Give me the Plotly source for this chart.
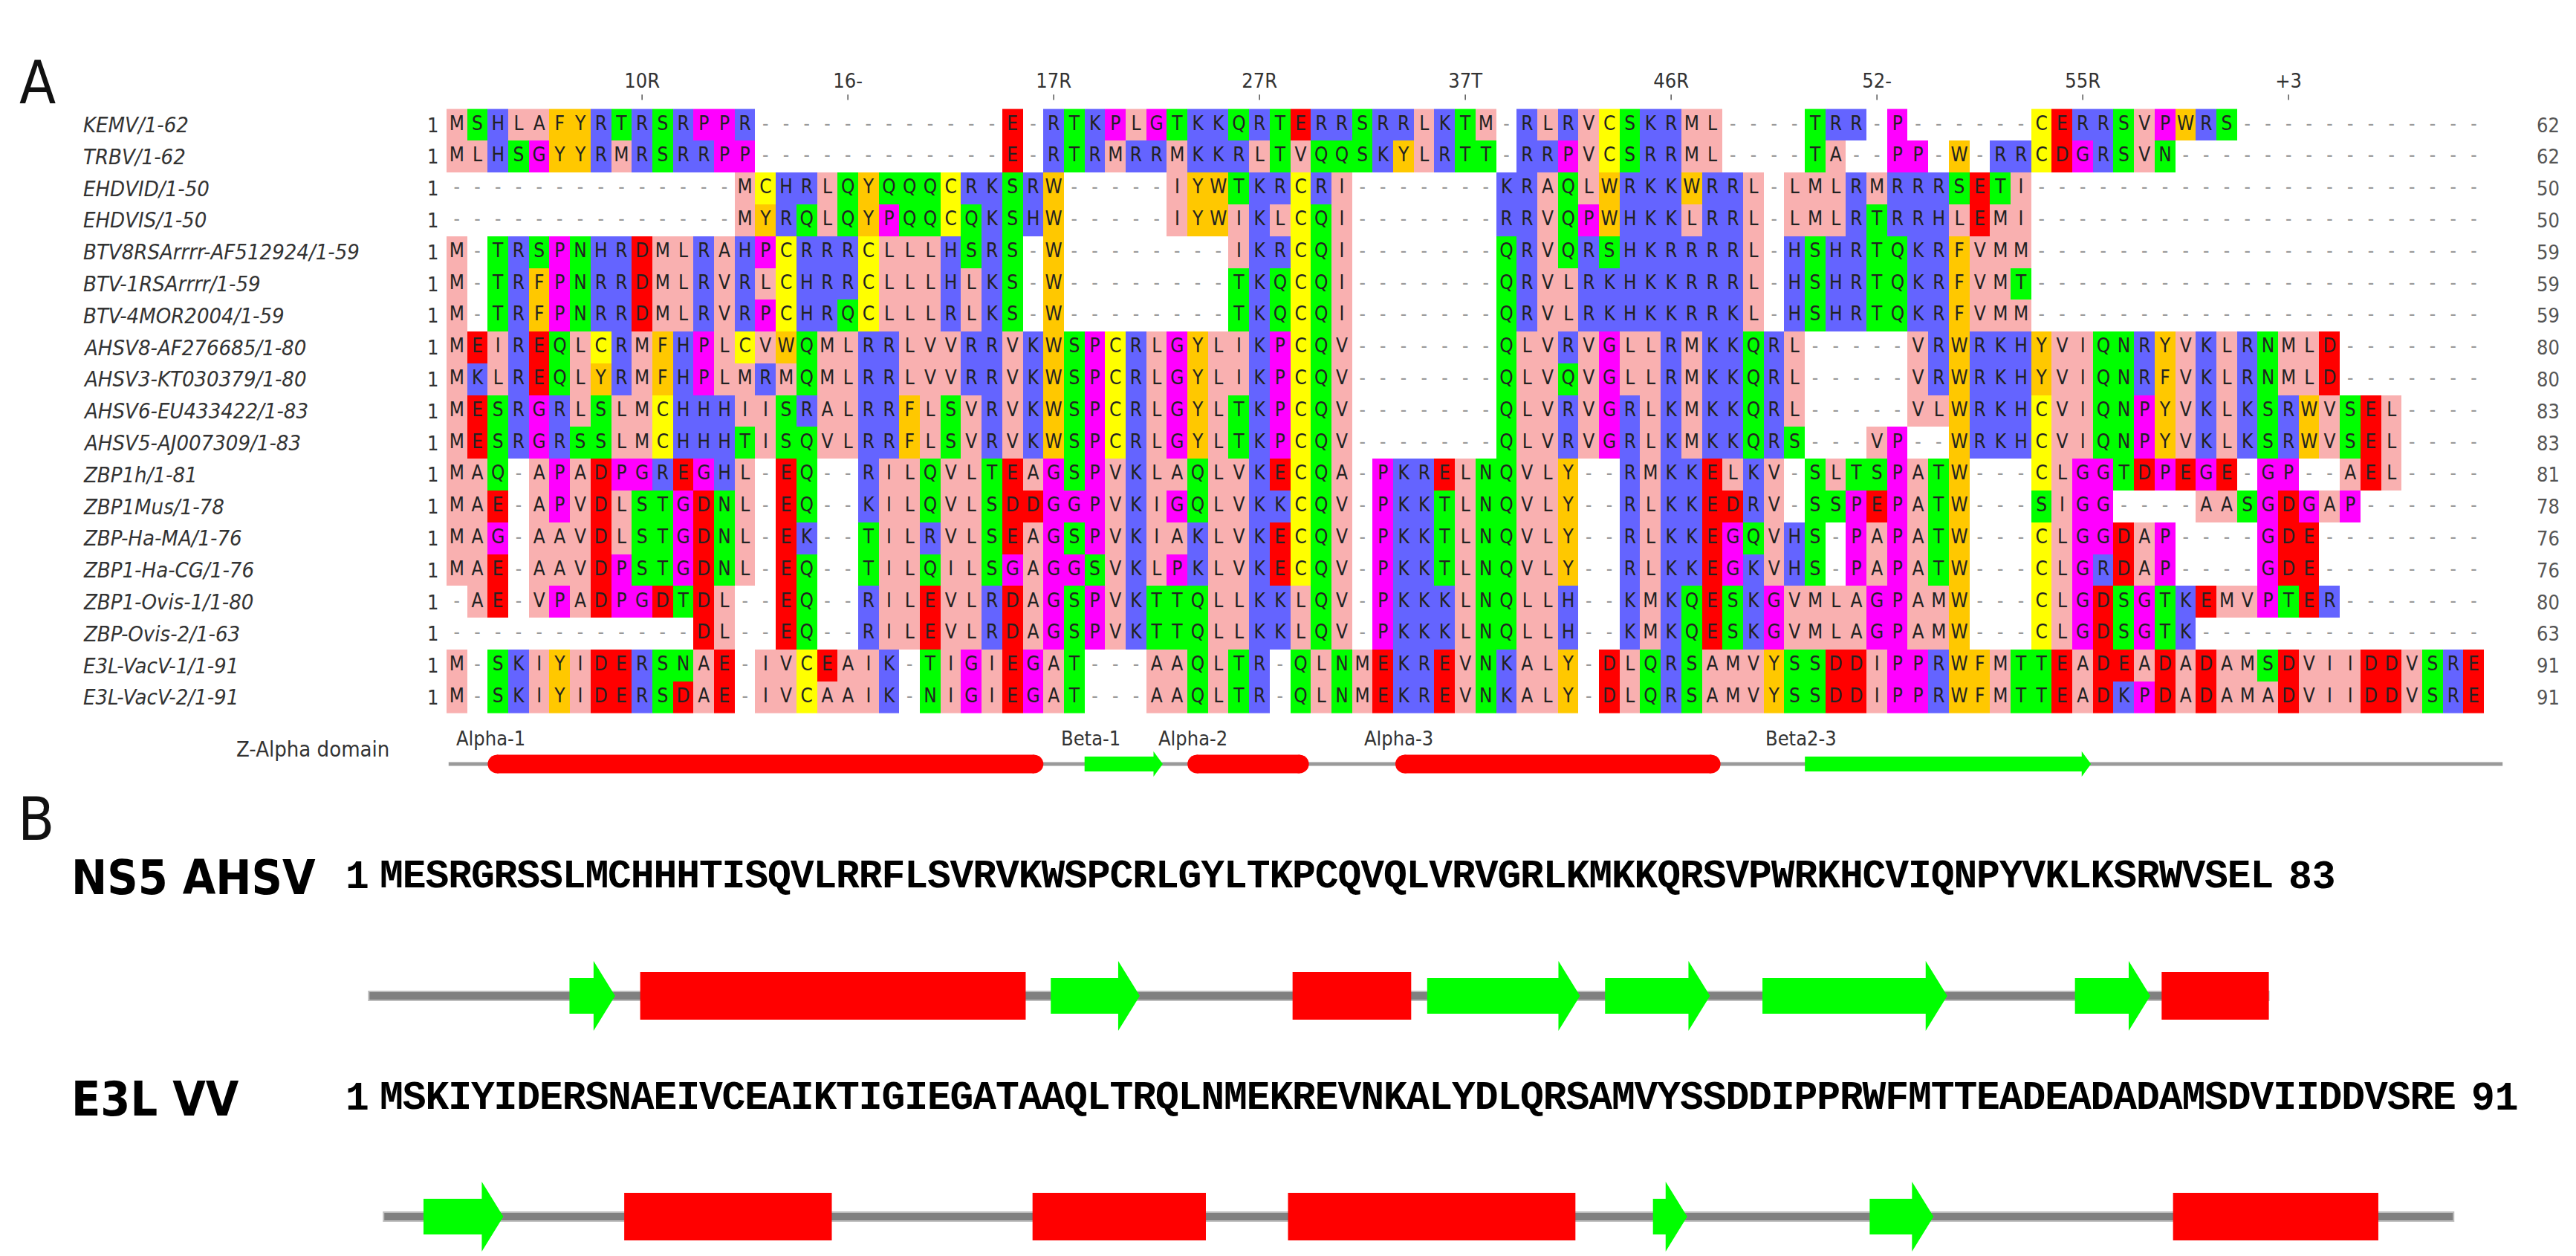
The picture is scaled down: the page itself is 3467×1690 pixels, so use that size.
import plotly.graph_objects as go

W, H = 3467, 1690

# ---------------- Panel A data ----------------
names = ["KEMV/1-62", "TRBV/1-62", "EHDVID/1-50", "EHDVIS/1-50", "BTV8RSArrrr-AF512924/1-59",
         "BTV-1RSArrrr/1-59", "BTV-4MOR2004/1-59", "AHSV8-AF276685/1-80", "AHSV3-KT030379/1-80",
         "AHSV6-EU433422/1-83", "AHSV5-AJ007309/1-83", "ZBP1h/1-81", "ZBP1Mus/1-78",
         "ZBP-Ha-MA/1-76", "ZBP1-Ha-CG/1-76", "ZBP1-Ovis-1/1-80", "ZBP-Ovis-2/1-63",
         "E3L-VacV-1/1-91", "E3L-VacV-2/1-91"]

aligned = [
    "MSHLAFYRTRSRPPR------------E-RTKPLGTKKQRTERRSRRLKTM-RLRVCSKRML----TRR-P------CERRSVPWRS",
    "MLHSGYYRMRSRRPP------------E-RTRMRRMKKRLTVQQSKYLRTT-RRPVCSRRML----TA--PP-W-RRCDGRSVN",
    "--------------MCHRLQYQQQCRKSRW-----IYWTKRCRI-------KRAQLWRKKWRRL-LMLRMRRRSETI",
    "--------------MYRQLQYPQQCQKSHW-----IYWIKLCQI-------RRVQPWHKKLRRL-LMLRTRRHLEMI",
    "M-TRSPNHRDMLRAHPCRRRCLLLHSRS-W--------IKRCQI-------QRVQRSHKRRRRL-HSHRTQKRFVMM",
    "M-TRFPNRRDMLRVRLCHRRCLLLHLKS-W--------TKQCQI-------QRVLRKHKKRRRL-HSHRTQKRFVMT",
    "M-TRFPNRRDMLRVRPCHRQCLLLRLKS-W--------TKQCQI-------QRVLRKHKKRRKL-HSHRTQKRFVMM",
    "MEIREQLCRMFHPLCVWQMLRRLVVRRVKWSPCRLGYLIKPCQV-------QLVRVGLLRMKKQRL-----VRWRKHYVIQNRYVKLRNMLD",
    "MKLREQLYRMFHPLMRMQMLRRLVVRRVKWSPCRLGYLIKPCQV-------QLVQVGLLRMKKQRL-----VRWRKHYVIQNRFVKLRNMLD",
    "MESRGRLSLMCHHHIISRALRRFLSVRVKWSPCRLGYLTKPCQV-------QLVRVGRLKMKKQRL-----VLWRKHCVIQNPYVKLKSRWVSEL",
    "MESRGRSSLMCHHHTISQVLRRFLSVRVKWSPCRLGYLTKPCQV-------QLVRVGRLKMKKQRS---VP--WRKHCVIQNPYVKLKSRWVSEL",
    "MAQ-APADPGREGHL-EQ--RILQVLTEAGSPVKLAQLVKECQA-PKRELNQVLY--RMKKELKV-SLTSPATW---CLGGTDPEGE-GP--AEL",
    "MAE-APVDLSTGDNL-EQ--KILQVLSDDGGPVKIGQLVKKCQV-PKKTLNQVLY--RLKKEDRV-SSPEPATW---SIGG----AASGDGAP",
    "MAG-AAVDLSTGDNL-EK--TILRVLSEAGSPVKIAKLVKECQV-PKKTLNQVLY--RLKKEGQVHS-PAPATW---CLGGDAP----GDE",
    "MAE-AAVDPSTGDNL-EQ--TILQILSGAGGSVKLPKLVKECQV-PKKTLNQVLY--RLKKEGKVHS-PAPATW---CLGRDAP----GDE",
    "-AE-VPADPGDTDL--EQ--RILEVLRDAGSPVKTTQLLKKLQV-PKKKLNQLLH--KMKQESKGVMLAGPAMW---CLGDSGTKEMVPTER",
    "------------DL--EQ--RILEVLRDAGSPVKTTQLLKKLQV-PKKKLNQLLH--KMKQESKGVMLAGPAMW---CLGDSGTK",
    "M-SKIYIDERSNAE-IVCEAIK-TIGIEGAT---AAQLTR-QLNMEKREVNKALY-DLQRSAMVYSSDDIPPRWFMTTEADEADADAMSDVIIDDVSRE",
    "M-SKIYIDERSDAE-IVCAAIK-NIGIEGAT---AAQLTR-QLNMEKREVNKALY-DLQRSAMVYSSDDIPPRWFMTTEADKPDADAMADVIIDDVSRE",
]
n_cols = 99

tick_cols = [10, 20, 30, 40, 50, 60, 70, 80, 90]
tick_labels = ["10R", "16-", "17R", "27R", "37T", "46R", "52-", "55R", "+3"]

# Z-alpha domain features (start col, end col, kind, label, label col)
featA = [(2.5, 29.5, "helix", "Alpha-1", 0.9),
         (31.5, 35.3, "strand", "Beta-1", 30.3),
         (36.5, 42.4, "helix", "Alpha-2", 35.0),
         (46.6, 62.4, "helix", "Alpha-3", 45.0),
         (66.5, 80.4, "strand", "Beta2-3", 64.5)]
trackA = (0.6, 100.4)

# ---------------- Panel B data ----------------
seqB_names = ["NS5 AHSV", "E3L VV"]
seqB = ["MESRGRSSLMCHHHTISQVLRRFLSVRVKWSPCRLGYLTKPCQVQLVRVGRLKMKKQRSVPWRKHCVIQNPYVKLKSRWVSEL",
        "MSKIYIDERSNAEIVCEAIKTIGIEGATAAQLTRQLNMEKREVNKALYDLQRSAMVYSSDDIPPRWFMTTEADEADADAMSDVIIDDVSRE"]
featB = [
    [(8.8, 10.8, "strand"), (11.9, 28.8, "helix"), (29.9, 33.8, "strand"), (40.5, 45.7, "helix"),
     (46.4, 53.1, "strand"), (54.2, 58.8, "strand"), (61.1, 69.2, "strand"), (74.8, 78.1, "strand"),
     (78.6, 83.3, "helix")],
    [(2.4, 5.9, "strand"), (11.2, 20.3, "helix"), (29.1, 36.7, "helix"), (40.3, 52.9, "helix"),
     (56.3, 57.8, "strand"), (65.8, 68.6, "strand"), (79.1, 88.1, "helix")],
]
trackB = [(0.0, 83.3), (0.65, 91.4)]

# ---------------- styling ----------------
zappo = {}
for aa in "ILVAM": zappo[aa] = 0
for aa in "FWY": zappo[aa] = 1
for aa in "KRH": zappo[aa] = 2
for aa in "DE": zappo[aa] = 3
for aa in "STNQ": zappo[aa] = 4
for aa in "PG": zappo[aa] = 5
zappo["C"] = 6
zcolors = ["#f9b0b0", "#ffc800", "#6464ff", "#ff0000", "#00ff00", "#ff00ff", "#ffff00"]
cscale = []
for i, c in enumerate(zcolors):
    cscale += [[i / 7, c], [(i + 1) / 7, c]]

NARROW = "DejaVu Sans Condensed, Liberation Sans"

fig = go.Figure()

col_w, row_h = 27.7, 42.8
x0_px, y0_px = 593.0, 160.0
xr = [0.5, 101.5]
yr_top = -y0_px / row_h
yr_bot = (1060 - y0_px) / row_h
domA_x = [x0_px / W, (x0_px + (xr[1] - xr[0]) * col_w) / W]
domA_y = [1 - 1060 / H, 1]

z, tx, ty, tt, tc = [], [], [], [], []
for r, s in enumerate(aligned):
    s = s.ljust(n_cols, "-")
    row = []
    for c, ch in enumerate(s):
        row.append(zappo.get(ch))
        tx.append(c + 1); ty.append(r); tt.append(ch)
        tc.append("#9a9a9a" if ch == "-" else "#222222")
    z.append(row)

fig.add_trace(go.Heatmap(z=z, x=list(range(1, n_cols + 1)), y=list(range(len(aligned))),
                         colorscale=cscale, zmin=-0.5, zmax=6.5, showscale=False,
                         hoverinfo="skip", xaxis="x", yaxis="y"))
fig.add_trace(go.Scatter(x=tx, y=ty, text=tt, mode="text", hoverinfo="skip",
                         textfont=dict(family=NARROW, size=26, color=tc),
                         xaxis="x", yaxis="y", showlegend=False))

tmx, tmy = [], []
for c in tick_cols:
    tmx += [c, c, None]; tmy += [-0.95, -0.78, None]
fig.add_trace(go.Scatter(x=tmx, y=tmy, mode="lines", line=dict(color="#555", width=1.5),
                         hoverinfo="skip", showlegend=False, xaxis="x", yaxis="y"))
fig.add_trace(go.Scatter(x=tick_cols, y=[-1.33] * len(tick_cols), text=tick_labels, mode="text",
                         textfont=dict(family=NARROW, size=27, color="#333"),
                         hoverinfo="skip", showlegend=False, xaxis="x", yaxis="y"))

annotations = []
for r, (nm, s) in enumerate(zip(names, aligned)):
    annotations.append(dict(x=102 / W, xref="paper", y=r, yref="y", text=f"<i>{nm}</i>",
                            showarrow=False, xanchor="left",
                            font=dict(family=NARROW, size=29, color="#333")))
    annotations.append(dict(x=584 / W, xref="paper", y=r, yref="y", text="1", showarrow=False,
                            xanchor="right", font=dict(family=NARROW, size=27, color="#333")))
    annotations.append(dict(x=3421 / W, xref="paper", y=r, yref="y",
                            text=str(len(s.replace("-", ""))), showarrow=False, xanchor="center",
                            font=dict(family=NARROW, size=27, color="#555")))

shapes = []
ty_track = (1020 - y0_px) / row_h
ty_lab = (985 - y0_px) / row_h
shapes.append(dict(type="rect", xref="x", yref="y", x0=trackA[0], x1=trackA[1],
                   y0=ty_track - 0.06, y1=ty_track + 0.06, fillcolor="#9a9a9a", line_width=0, layer="above"))
rx, ry = 12.5 / col_w, 12.5 / row_h
for s, e, kind, lab, lc in featA:
    if kind == "helix":
        shapes.append(dict(type="rect", xref="x", yref="y", x0=s + rx, x1=e - rx,
                           y0=ty_track - ry, y1=ty_track + ry, fillcolor="#ff0000", line_width=0, layer="above"))
        for cx in (s + rx, e - rx):
            shapes.append(dict(type="circle", xref="x", yref="y", x0=cx - rx, x1=cx + rx,
                               y0=ty_track - ry, y1=ty_track + ry, fillcolor="#ff0000", line_width=0, layer="above"))
    else:
        hb, hh, hl = 10 / row_h, 17 / row_h, 0.45
        p = (f"M {s},{ty_track - hb} L {e - hl},{ty_track - hb} L {e - hl},{ty_track - hh} "
             f"L {e},{ty_track} L {e - hl},{ty_track + hh} L {e - hl},{ty_track + hb} L {s},{ty_track + hb} Z")
        shapes.append(dict(type="path", xref="x", yref="y", path=p, fillcolor="#00ff00", line_width=0, layer="above"))
    annotations.append(dict(x=lc, xref="x", y=ty_lab, yref="y", text=lab, showarrow=False,
                            xanchor="left", font=dict(family=NARROW, size=27, color="#333")))
annotations.append(dict(x=518 / W, xref="paper", y=(1000 - y0_px) / row_h, yref="y", text="Z-Alpha domain",
                        showarrow=False, xanchor="right", font=dict(family=NARROW, size=29, color="#333")))

annotations.append(dict(x=16 / W, xref="paper", y=1 - 55 / H, yref="paper", text="A", showarrow=False,
                        xanchor="left", font=dict(family=NARROW, size=80, color="#111")))
annotations.append(dict(x=14 / W, xref="paper", y=1 - 1094 / H, yref="paper", text="B", showarrow=False,
                        xanchor="left", font=dict(family=NARROW, size=80, color="#111")))

# ---------------- Panel B ----------------
cw = 30.7
xb_range = [-2, 96]
px = lambda r: 519 + (r - 1) * cw
domB_x = [px(xb_range[0]) / W, px(xb_range[1]) / W]
domB_y = [0, 1 - 1060 / H]
seq_y = [1173, 1471]
track_y = [1332, 1629]
for i, (nm, s) in enumerate(zip(seqB_names, seqB)):
    fig.add_trace(go.Scatter(x=list(range(1, len(s) + 1)), y=[seq_y[i]] * len(s), text=list(s),
                             mode="text", hoverinfo="skip", showlegend=False, xaxis="x2", yaxis="y2",
                             textfont=dict(family="Liberation Mono", size=53, color="#000", weight="bold")))
    annotations.append(dict(x=86 / W, xref="paper", y=seq_y[i], yref="y2", text=f"<b>{nm}</b>",
                            showarrow=False, xanchor="left",
                            font=dict(family=NARROW, size=64, color="#000")))
    annotations.append(dict(x=-0.5, xref="x2", y=seq_y[i], yref="y2", text="<b>1</b>", showarrow=False,
                            xanchor="center", font=dict(family="Liberation Mono", size=53, color="#000")))
    annotations.append(dict(x=len(s) + 2.2, xref="x2", y=seq_y[i], yref="y2", text=f"<b>{len(s)}</b>",
                            showarrow=False, xanchor="center",
                            font=dict(family="Liberation Mono", size=53, color="#000")))
    ty0 = track_y[i]
    shapes.append(dict(type="rect", xref="x2", yref="y2", x0=trackB[i][0], x1=trackB[i][1],
                       y0=ty0 - 6, y1=ty0 + 6, fillcolor="#808080", line=dict(color="#bdbdbd", width=2),
                       layer="above"))
    for s0, e0, kind in featB[i]:
        if kind == "helix":
            shapes.append(dict(type="rect", xref="x2", yref="y2", x0=s0, x1=e0, y0=ty0 - 32, y1=ty0 + 32,
                               fillcolor="#ff0000", line_width=0, layer="above"))
        else:
            hl = 29 / cw
            p = (f"M {s0},{ty0 - 24} L {e0 - hl},{ty0 - 24} L {e0 - hl},{ty0 - 47} L {e0},{ty0} "
                 f"L {e0 - hl},{ty0 + 47} L {e0 - hl},{ty0 + 24} L {s0},{ty0 + 24} Z")
            shapes.append(dict(type="path", xref="x2", yref="y2", path=p, fillcolor="#00ff00",
                               line_width=0, layer="above"))

ax_off = dict(visible=False, showgrid=False, zeroline=False, fixedrange=True)
fig.update_layout(
    width=W, height=H, margin=dict(l=0, r=0, t=0, b=0),
    paper_bgcolor="white", plot_bgcolor="rgba(0,0,0,0)", showlegend=False,
    xaxis=dict(range=xr, domain=domA_x, **ax_off),
    yaxis=dict(range=[yr_bot, yr_top], domain=domA_y, **ax_off),
    xaxis2=dict(range=xb_range, domain=domB_x, anchor="y2", **ax_off),
    yaxis2=dict(range=[H, 1060], domain=domB_y, anchor="x2", **ax_off),
    shapes=shapes, annotations=annotations,
)
fig.write_html("out.html", config={"displayModeBar": False})
